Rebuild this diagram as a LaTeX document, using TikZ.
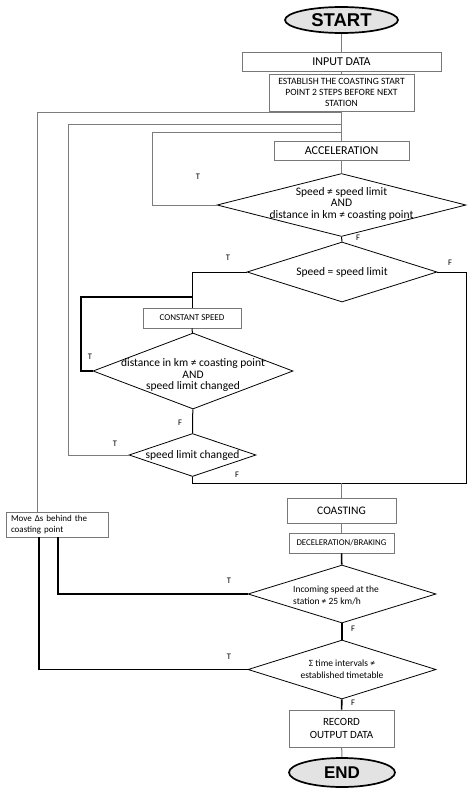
\documentclass[tikz,border=0pt]{standalone}
\usepackage{fontspec}
\setmainfont{Carlito}
\newfontfamily\headfont{Liberation Sans}
\usetikzlibrary{shapes.geometric}
\definecolor{lgray}{RGB}{125,125,125}
\definecolor{bgray}{RGB}{120,120,120}
\begin{document}
\begin{tikzpicture}[x=1pt,y=-1pt,
  term/.style={ellipse, draw=black, line width=1.7pt, fill=gray!22, inner sep=0},
  box/.style={draw=bgray, line width=0.9pt, fill=white, inner sep=0, align=center},
  dia/.style={diamond, draw=black, line width=0.8pt, inner sep=0},
  dtext/.style={align=center, inner sep=0, font=\fontsize{11.5}{11.5}\selectfont},
  gline/.style={draw=lgray, line width=1pt},
  bline/.style={draw=black, line width=1pt},
  tline/.style={draw=black, line width=1.6pt},
  lab/.style={font=\fontsize{8.5}{8.5}\selectfont, inner sep=0}]
\useasboundingbox (0,0) rectangle (474,795);

% terminals and boxes
\node[term, minimum width=113pt, minimum height=26pt, font=\headfont\bfseries\fontsize{18.5}{18.5}\selectfont] (start) at (341.5,20) {START};
\node[box, minimum width=199pt, minimum height=19pt, font=\fontsize{12}{12}\selectfont] (input) at (341.5,61.5) {INPUT DATA};
\node[box, minimum width=145pt, minimum height=37pt, font=\fontsize{9.6}{11}\selectfont] (estab) at (341.5,92.5) {ESTABLISH THE COASTING START\\POINT 2 STEPS BEFORE NEXT\\STATION};
\node[box, minimum width=135pt, minimum height=19pt, font=\fontsize{12}{12}\selectfont] (accel) at (341.5,150.5) {ACCELERATION};
\node[box, minimum width=98pt, minimum height=20pt, font=\fontsize{9}{9}\selectfont] (const) at (192,318) {CONSTANT SPEED};
\node[box, minimum width=109pt, minimum height=25pt, font=\fontsize{11.5}{11.5}\selectfont] (coast) at (341.5,510.5) {COASTING};
\node[box, minimum width=105pt, minimum height=20pt, font=\fontsize{8.8}{8.8}\selectfont] (decel) at (341.5,543) {DECELERATION/BRAKING};
\node[box, minimum width=105pt, minimum height=37pt, font=\fontsize{11}{12.5}\selectfont] (record) at (341.5,728.5) {RECORD\\OUTPUT DATA};
\node[term, minimum width=106pt, minimum height=29pt, font=\headfont\bfseries\fontsize{17}{17}\selectfont] (end) at (342,772.5) {END};
\node[box, minimum width=102pt, minimum height=25pt, text width=92pt, align=left, font=\fontsize{9}{11}\selectfont] (move) at (57,524.5) {Move Δs behind the\\coasting point};

% decisions
\node[dia, minimum width=249pt, minimum height=63pt] (d1) at (341.5,205) {};
\node[dtext] (t1) at (341.5,203.5) {Speed ≠ speed limit\\AND\\distance in km ≠ coasting point};
\node[dia, minimum width=190pt, minimum height=60pt] (d2) at (342,272) {};
\node[dtext] (t2) at (342,272) {Speed = speed limit};
\node[dia, minimum width=200pt, minimum height=76pt] (d3) at (193,371) {};
\node[dtext] (t3) at (193,375) {distance in km ≠ coasting point\\AND\\speed limit changed};
\node[dia, minimum width=127pt, minimum height=43pt] (d4) at (192.5,455) {};
\node[dtext] (t4) at (192.5,455) {speed limit changed};
\node[dia, minimum width=188pt, minimum height=58pt] (d5) at (342,594) {};
\node[dtext, align=left, font=\fontsize{9.5}{12}\selectfont] (t5) at (336,595) {Incoming speed at the\\station ≠ 25 km/h};
\node[dia, minimum width=188pt, minimum height=59pt] (d6) at (342,669.5) {};
\node[dtext, font=\fontsize{9.5}{12}\selectfont] (t6) at (342,669) {Σ time intervals ≠\\established timetable};

% main spine
\draw[gline] (start) -- (input);
\draw[gline] (input) -- (estab);
\draw[gline] (estab) -- (accel);
\draw[gline] (accel) -- (d1);
\draw[bline] (d1.south) -- (d2.north);
\draw[bline] (d2) -- (const.north |- d2) -- (const.north);
\draw[bline] (const) -- (d3);
\draw[bline] (d3) -- (d4);
\coordinate (rf) at (466,483);
\draw[bline] (d2.east) -- (rf |- d2.east) -- (rf) -- (d4.south |- rf) -- (d4.south);
\draw[gline] (coast.north |- rf) -- (coast.north);
\draw[gline] (coast) -- (decel);
\draw[tline] (decel) -- (d5);
\draw[tline] (d5) -- (d6);
\draw[tline] (d6) -- (record);
\draw[gline] (record) -- (end);

% loops
\coordinate (l3) at (152,132);
\draw[gline] (d1.west) -- (l3 |- d1.west) -- (l3) -- (l3 -| estab.south);
\coordinate (l2) at (68,124);
\draw[gline] (d4.west) -- (l2 |- d4.west) -- (l2) -- (l2 -| estab.south);
\coordinate (l1) at (37,112);
\draw[gline] (move.north -| l1) -- (l1) -- (l1 -| estab.south);
\coordinate (lt) at (81,297);
\draw[tline] (d3.west) -- (lt |- d3.west) -- (lt) -- (lt -| const.north);
\coordinate (l5) at (58,595);
\draw[tline] (d5.west) -- (l5 |- d5.west) -- (l5 |- move.south);
\coordinate (l6) at (39,670);
\draw[tline] (d6.west) -- (l6 |- d6.west) -- (l6 |- move.south);

% labels
\node[lab] (lt1) at (198,177) {T};
\node[lab] (lf1) at (358,238) {F};
\node[lab] (lt2) at (228,258) {T};
\node[lab] (lf2) at (450,263) {F};
\node[lab] (lt3) at (90,357) {T};
\node[lab] (lf3) at (180,423) {F};
\node[lab] (lt4) at (115,444) {T};
\node[lab] (lf4) at (237,475) {F};
\node[lab] (lt5) at (229,581) {T};
\node[lab] (lf5) at (353,629) {F};
\node[lab] (lt6) at (229,657) {T};
\node[lab] (lf6) at (353,703) {F};
\end{tikzpicture}
\end{document}
